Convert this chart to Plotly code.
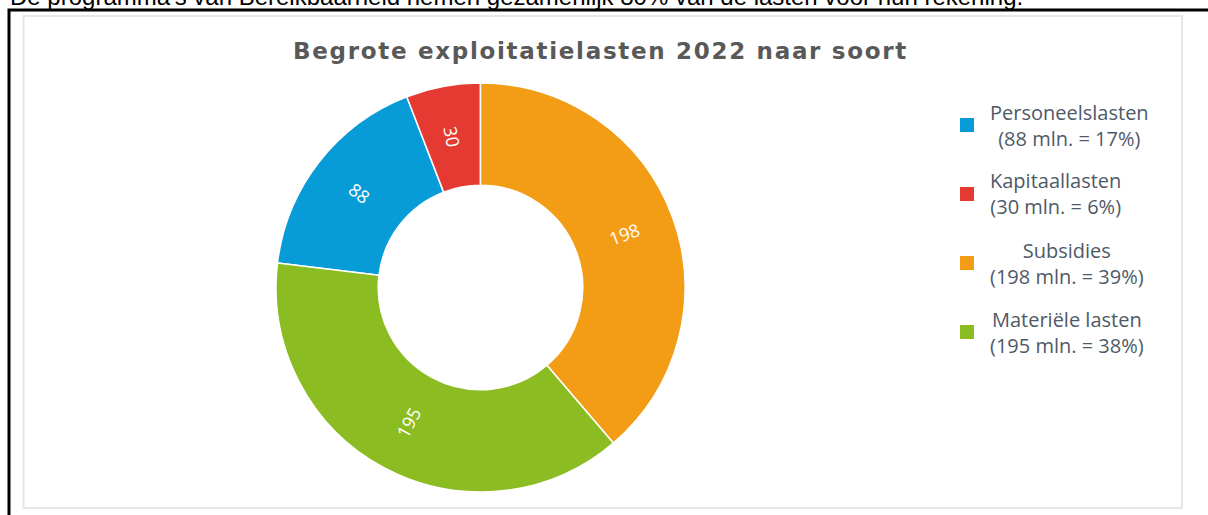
import math
import plotly.graph_objects as go

W, H = 1208, 515

# ---- data ----
categories = ["Personeelslasten", "Kapitaallasten", "Subsidies", "Materiële lasten"]
values = [88, 30, 198, 195]
colors = ["#079bd7", "#e53a31", "#f39d17", "#8bbd22"]
title_text = "Begrote exploitatielasten 2022 naar soort"
top_text = "De programma's van Bereikbaarheid nemen gezamenlijk 80% van de lasten voor hun rekening."

total = sum(values)
pcts = [round(v / total * 100) for v in values]

def px(x):
    return x / W

def py(y):
    return 1 - y / H

# donut geometry (pixels)
cx, cy, R = 480.5, 287.5, 204.5
hole = 0.5

# rotation so that the first two slices end at 12 o'clock (clockwise)
rotation = -360 * (values[0] + values[1]) / total

fig = go.Figure()
fig.add_trace(go.Pie(
    labels=categories,
    values=values,
    sort=False,
    direction="clockwise",
    rotation=rotation,
    hole=hole,
    marker=dict(colors=colors, line=dict(color="white", width=1.5)),
    textinfo="none",
    domain=dict(x=[px(cx - R), px(cx + R)], y=[py(cy + R), py(cy - R)]),
    showlegend=False,
    hoverinfo="label+value+percent",
))

shapes = [
    dict(type="rect", xref="paper", yref="paper",
         x0=px(9), x1=1.05, y0=-0.05, y1=py(10),
         line=dict(color="black", width=3), fillcolor="rgba(0,0,0,0)", layer="below"),
    dict(type="rect", xref="paper", yref="paper",
         x0=px(23.5), x1=px(1182), y0=py(508), y1=py(16),
         line=dict(color="#e4e7ec", width=2), fillcolor="rgba(0,0,0,0)", layer="below"),
]

annotations = [
    dict(text=top_text, xref="paper", yref="paper", x=px(8), y=py(-3),
         xanchor="left", yanchor="middle", showarrow=False,
         font=dict(family="Liberation Sans", size=24, color="black")),
    dict(text='<b><span style="letter-spacing:1.7px">' + title_text + "</span></b>",
         xref="paper", yref="paper",
         x=px(600), y=py(51), xanchor="center", yanchor="middle", showarrow=False,
         font=dict(family="DejaVu Sans", size=23, color="#595959")),
]

# slice value labels, radially oriented at each slice's mid angle
r_lab = R * (1 + hole) / 2
start = rotation
for v in values:
    span = 360 * v / total
    mid = start + span / 2
    start += span
    th = math.radians(mid)
    ang = mid - 90
    while ang > 90:
        ang -= 180
    while ang < -90:
        ang += 180
    annotations.append(dict(
        text=str(v), xref="paper", yref="paper",
        x=px(cx + r_lab * math.sin(th)), y=py(cy - r_lab * math.cos(th)),
        xanchor="center", yanchor="middle", textangle=ang, showarrow=False,
        font=dict(family="Open Sans", size=18, color="white")))

# custom legend (centered two-line entries)
leg_y0, leg_dy = 125, 69
for i, (c, v, p, col) in enumerate(zip(categories, values, pcts, colors)):
    yc = leg_y0 + i * leg_dy
    shapes.append(dict(type="rect", xref="paper", yref="paper",
                       x0=px(960), x1=px(974), y0=py(yc + 7), y1=py(yc - 7),
                       line=dict(width=0), fillcolor=col))
    annotations.append(dict(
        text=f"{c}<br>({v} mln. = {p}%)", xref="paper", yref="paper",
        x=px(988), y=py(yc), xanchor="left", yanchor="middle", align="center",
        showarrow=False, font=dict(family="Open Sans", size=20, color="#4e5a68")))

fig.update_layout(
    width=W, height=H,
    margin=dict(l=0, r=0, t=0, b=0),
    paper_bgcolor="white", plot_bgcolor="white",
    shapes=shapes, annotations=annotations,
)

fig.write_html("out.html", config={"displayModeBar": False},
               post_script="document.body.style.margin='0';document.body.style.overflow='hidden';")
